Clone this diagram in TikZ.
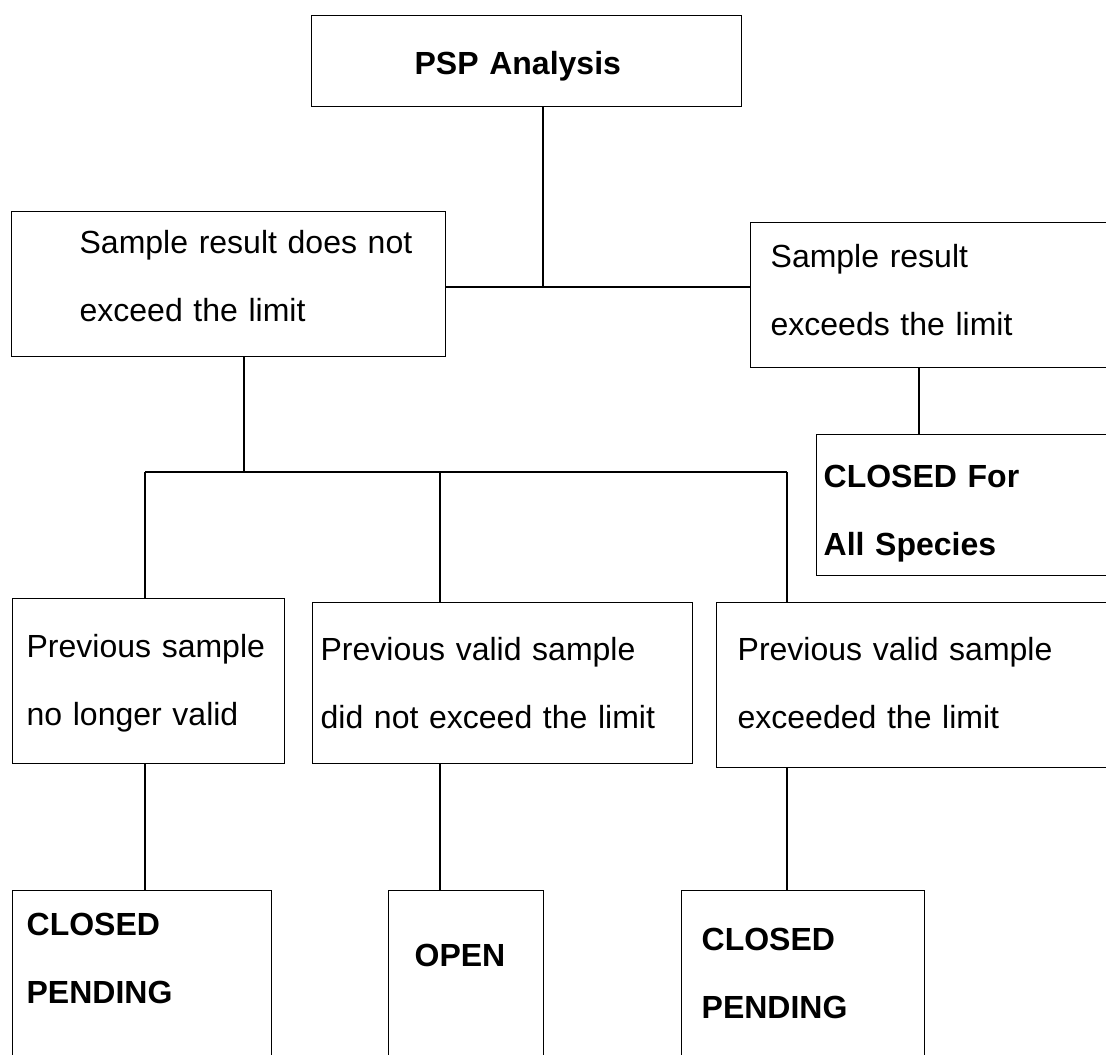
\documentclass[tikz,border=0pt]{standalone}
\usepackage{fontspec}
\setmainfont{Liberation Sans}

\begin{document}
\begin{tikzpicture}[
  x=1pt, y=-1pt,
  font=\fontsize{32}{68}\selectfont,
  box/.style={draw, line width=1.3pt, rectangle, anchor=north west,
              inner sep=0pt, align=left},
  boxindent/.style={execute at begin node={\leftskip=#1pt\relax}},
  result/.style={box, font=\fontsize{32}{68}\selectfont\bfseries},
  link/.style={line width=1.3pt},
]

\useasboundingbox (0,0) rectangle (1106,1055);
\clip (0,0) rectangle (1106,1055);

% ---- top ----
\node[result, text width=430, text height=58.5, text depth=32.5, boxindent=103] (psp) at (311,15) {PSP Analysis};

% ---- first split ----
\node[box, text width=434, text height=42, text depth=103, boxindent=68] (below) at (11,211) {Sample result does not\\exceed the limit};
\node[box, text width=380, text height=45, text depth=100, boxindent=20] (above) at (750,222) {Sample result\\exceeds the limit};
\node[result, text width=320, text height=53, text depth=88, boxindent=7] (closedall) at (816,434) {CLOSED For\\All Species};

% ---- previous sample cases ----
\node[box, text width=272, text height=59, text depth=106, boxindent=14] (prevold) at (12,598) {Previous sample\\no longer valid};
\node[box, text width=380, text height=58, text depth=103, boxindent=8] (prevok) at (312,602) {Previous valid sample\\did not exceed the limit};
\node[box, text width=420, text height=58, text depth=107, boxindent=21] (prevhigh) at (716,602) {Previous valid sample\\exceeded the limit};

% ---- outcomes (run off the page) ----
\node[result, text width=259, text height=45, text depth=300, boxindent=14] (pend1) at (12,890) {CLOSED\\PENDING};
\node[result, text width=155, text height=76, text depth=300, boxindent=26] (open) at (388,890) {OPEN};
\node[result, text width=243, text height=60, text depth=300, boxindent=20] (pend2) at (681,890) {CLOSED\\PENDING};

% ---- tee points ----
\coordinate (teeTop) at (543,287);
\coordinate (teeBar) at (244,472);
\coordinate (teeL) at (145,472);
\coordinate (teeM) at (440,472);
\coordinate (teeR) at (787,472);
\coordinate (dropR) at (919,0);

% ---- connectors ----
\draw[link] (teeTop |- psp.south) -- (teeTop);
\draw[link] (below.east |- teeTop) -- (above.west |- teeTop);
\draw[link] (dropR |- above.south) -- (dropR |- closedall.north);
\draw[link] (teeBar |- below.south) -- (teeBar);
\draw[link] (teeL) -- (teeR);
\foreach \t/\n in {teeL/prevold, teeM/prevok, teeR/prevhigh}{ \draw[link] (\t) -- (\t |- \n.north); }
\foreach \t/\a/\b in {teeL/prevold/pend1, teeM/prevok/open, teeR/prevhigh/pend2}{ \draw[link] (\t |- \a.south) -- (\t |- \b.north); }

\end{tikzpicture}
\end{document}
